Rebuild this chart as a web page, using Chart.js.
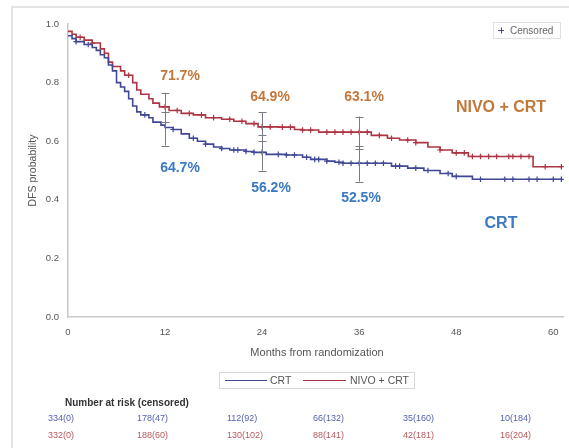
<!DOCTYPE html>
<html>
<head>
<meta charset="utf-8">
<script src="https://cdn.jsdelivr.net/npm/chart.js@4.4.0/dist/chart.umd.min.js"></script>
<style>
  html, body { margin: 0; padding: 0; background: #fff; }
  #wrap { width: 569px; height: 448px; position: relative; }
</style>
</head>
<body>
<div id="wrap"><canvas id="kmChart"></canvas></div>
<script>
// Kaplan-Meier steps (months, DFS probability)
const crtMonths = [0, 0.5, 1, 2, 3, 3.5, 4, 4.5, 5, 5.5, 6, 6.5, 7, 7.5, 8, 8.5, 9, 10, 10.5, 11.5, 12, 13, 14, 15, 16, 17, 18, 19, 20, 22, 23, 24.5, 27, 29, 30, 32, 33, 34, 40, 42, 44, 46, 47.5, 50, 61];
const crtSurv = [0.96, 0.95, 0.94, 0.93, 0.92, 0.91, 0.895, 0.885, 0.86, 0.84, 0.80, 0.785, 0.77, 0.745, 0.72, 0.70, 0.69, 0.68, 0.665, 0.655, 0.647, 0.64, 0.625, 0.61, 0.60, 0.59, 0.58, 0.575, 0.57, 0.565, 0.562, 0.555, 0.553, 0.545, 0.538, 0.532, 0.528, 0.525, 0.515, 0.508, 0.50, 0.49, 0.48, 0.47, 0.47];

const nivoMonths = [0, 0.5, 1, 2, 3, 4, 4.5, 5, 5.5, 6.5, 7, 8, 8.5, 9, 10, 10.5, 11.3, 12.5, 14, 15.5, 17, 19, 20.5, 22, 23.5, 26, 28, 29, 31, 37.5, 39.5, 41, 43, 44.5, 46, 47.5, 49.5, 57.5, 61];
const nivoSurv = [0.975, 0.965, 0.955, 0.945, 0.935, 0.915, 0.90, 0.87, 0.855, 0.84, 0.825, 0.80, 0.775, 0.76, 0.745, 0.73, 0.717, 0.705, 0.695, 0.69, 0.68, 0.675, 0.668, 0.66, 0.649, 0.648, 0.64, 0.638, 0.631, 0.62, 0.61, 0.604, 0.595, 0.58, 0.57, 0.56, 0.548, 0.513, 0.513];

// censoring times (months)
const crtCensor = [1, 2.5, 9.5, 13, 15.5, 17, 19, 20.5, 21, 22, 23, 24, 26, 27, 28, 29.5, 30.5, 31, 32, 33.5, 34, 35, 36, 37, 38, 39, 40.5, 41, 43, 44.5, 47, 48, 51, 54, 55, 57, 58, 60, 61];
const nivoCensor = [1.5, 3, 7.5, 12, 13.5, 15, 16.5, 18, 20, 21.5, 23, 24, 25, 26.5, 27.5, 29, 30, 32, 33, 34, 35, 36, 37, 38.5, 40, 42, 43, 46, 48, 49, 50, 51, 52, 53, 54.5, 55, 56, 57, 59, 61];

// 95% CI bars at landmarks
const ciMonths = [12, 24, 36];
const nivoUpper = [0.765, 0.70, 0.684];
const nivoLower = [0.665, 0.60, 0.575];
const crtUpper = [0.70, 0.62, 0.585];
const crtLower = [0.585, 0.50, 0.462];

const xTicks = [0, 12, 24, 36, 48, 60];
const riskCrt = ['334(0)', '178(47)', '112(92)', '66(132)', '35(160)', '10(184)'];
const riskNivo = ['332(0)', '188(60)', '130(102)', '88(141)', '42(181)', '16(204)'];

const blueLine = '#3f4796';
const redLine = '#ad3442';
const labelOrange = '#c2773b';
const labelBlue = '#3b79c2';
const sans = '"Liberation Sans", Arial, sans-serif';

function stepAt(months, surv, t) {
    let v = surv[0];
    for (let i = 0; i < months.length; i++) {
        if (months[i] <= t) v = surv[i];
    }
    return v;
}

const toPts = (m, s) => m.map((t, i) => ({ x: t, y: s[i] }));
const censorPts = (c, m, s) => c.map(t => ({ x: t, y: stepAt(m, s, t) }));

// extra drawing: frame, CI bars, labels, legends, risk table
const extrasPlugin = {
    id: 'extras',
    beforeDraw(chart) {
        const ctx = chart.ctx;
        ctx.save();
        ctx.strokeStyle = '#dcdcdc';
        ctx.lineWidth = 1.5;
        ctx.beginPath();
        ctx.moveTo(12, 448);
        ctx.lineTo(12, 7);
        ctx.lineTo(569, 7);
        ctx.stroke();
        ctx.restore();
    },
    afterDatasetsDraw(chart) {
        const ctx = chart.ctx;
        const xs = chart.scales.x, ys = chart.scales.y;
        ctx.save();

        // CI bars
        ctx.strokeStyle = '#7a7a86';
        ctx.lineWidth = 1;
        ciMonths.forEach((m, i) => {
            const px = Math.round(xs.getPixelForValue(m)) + 0.5;
            const top = ys.getPixelForValue(nivoUpper[i]);
            const bot = ys.getPixelForValue(crtLower[i]);
            ctx.beginPath();
            ctx.moveTo(px, top);
            ctx.lineTo(px, bot);
            [nivoUpper[i], nivoLower[i], crtUpper[i], crtLower[i]].forEach(v => {
                const py = Math.round(ys.getPixelForValue(v)) + 0.5;
                ctx.moveTo(px - 4, py);
                ctx.lineTo(px + 4, py);
            });
            ctx.stroke();
        });

        // percentage labels
        ctx.font = 'bold 14px ' + sans;
        ctx.textAlign = 'center';
        ctx.textBaseline = 'middle';
        ctx.fillStyle = labelOrange;
        ctx.fillText('71.7%', 180, 76);
        ctx.fillText('64.9%', 270, 97);
        ctx.fillText('63.1%', 364, 97);
        ctx.fillStyle = labelBlue;
        ctx.fillText('64.7%', 180, 168);
        ctx.fillText('56.2%', 271, 188);
        ctx.fillText('52.5%', 361, 198);
        ctx.font = 'bold 16px ' + sans;
        ctx.fillStyle = labelOrange;
        ctx.fillText('NIVO + CRT', 501, 108);
        ctx.fillStyle = labelBlue;
        ctx.fillText('CRT', 501, 224);

        // x axis title
        ctx.font = '11px ' + sans;
        ctx.fillStyle = '#555';
        ctx.fillText('Months from randomization', 317, 353);

        // censored legend
        ctx.strokeStyle = '#e0e0e0';
        ctx.lineWidth = 1;
        ctx.strokeRect(493.5, 22.5, 67, 16);
        ctx.strokeStyle = blueLine;
        ctx.beginPath();
        ctx.moveTo(498, 30.5); ctx.lineTo(504, 30.5);
        ctx.moveTo(501.5, 27.5); ctx.lineTo(501.5, 33.5);
        ctx.stroke();
        ctx.textAlign = 'left';
        ctx.font = '10px ' + sans;
        ctx.fillStyle = '#666';
        ctx.fillText('Censored', 510, 31);

        // series legend
        ctx.strokeStyle = '#d8d8d8';
        ctx.strokeRect(219.5, 372.5, 195, 16);
        ctx.strokeStyle = blueLine;
        ctx.beginPath(); ctx.moveTo(225, 380.5); ctx.lineTo(267, 380.5); ctx.stroke();
        ctx.strokeStyle = redLine;
        ctx.beginPath(); ctx.moveTo(303, 380.5); ctx.lineTo(346, 380.5); ctx.stroke();
        ctx.font = '10.5px ' + sans;
        ctx.fillStyle = '#555';
        ctx.fillText('CRT', 270, 381);
        ctx.fillText('NIVO + CRT', 350, 381);

        // risk table
        ctx.font = 'bold 10px ' + sans;
        ctx.fillStyle = '#333';
        ctx.fillText('Number at risk (censored)', 65, 403);
        ctx.font = '9px ' + sans;
        const cols = [48, 137, 227, 313, 403, 500];
        riskCrt.forEach((t, i) => {
            ctx.fillStyle = '#5561ad';
            ctx.fillText(t, cols[i], 419);
            ctx.fillStyle = '#b8585c';
            ctx.fillText(riskNivo[i], cols[i], 436);
        });
        ctx.restore();
    }
};

const ctx = document.getElementById('kmChart').getContext('2d');
new Chart(ctx, {
    type: 'line',
    data: {
        datasets: [
            {
                label: 'CRT',
                data: toPts(crtMonths, crtSurv),
                borderColor: blueLine,
                borderWidth: 1.6,
                stepped: 'before',
                pointRadius: 0,
                fill: false
            },
            {
                label: 'NIVO + CRT',
                data: toPts(nivoMonths, nivoSurv),
                borderColor: redLine,
                borderWidth: 1.6,
                stepped: 'before',
                pointRadius: 0,
                fill: false
            },
            {
                type: 'scatter',
                label: 'CRT censored',
                data: censorPts(crtCensor, crtMonths, crtSurv),
                borderColor: blueLine,
                pointStyle: 'cross',
                pointRadius: 2.8,
                borderWidth: 1.2
            },
            {
                type: 'scatter',
                label: 'NIVO censored',
                data: censorPts(nivoCensor, nivoMonths, nivoSurv),
                borderColor: redLine,
                pointStyle: 'cross',
                pointRadius: 2.8,
                borderWidth: 1.2
            }
        ]
    },
    options: {
        responsive: true,
        maintainAspectRatio: false,
        animation: false,
        layout: { padding: { top: 24, right: 3, left: 0, bottom: 0 } },
        plugins: {
            legend: { display: false },
            tooltip: { enabled: false }
        },
        scales: {
            x: {
                type: 'linear',
                min: 0,
                max: 61.3,
                afterBuildTicks: s => { s.ticks = xTicks.map(v => ({ value: v })); },
                afterFit: s => { s.height = 131; s.paddingLeft = 0; s.paddingRight = 0; },
                grid: { display: false, drawTicks: true, tickLength: 4, tickColor: '#bbb' },
                border: { color: '#c8c8c8', width: 1.5 },
                ticks: {
                    color: '#555',
                    font: { size: 9.5, family: sans },
                    padding: 6,
                    maxRotation: 0
                }
            },
            y: {
                min: 0,
                max: 1,
                afterFit: s => { s.width = 68; s.paddingTop = 0; s.paddingBottom = 0; },
                grid: { display: false, drawTicks: true, tickLength: 4, tickColor: '#bbb' },
                border: { color: '#c8c8c8', width: 1.5 },
                ticks: {
                    stepSize: 0.2,
                    color: '#555',
                    font: { size: 9.5, family: sans },
                    padding: 5,
                    callback: v => v.toFixed(1)
                },
                title: {
                    display: true,
                    text: 'DFS probability',
                    color: '#555',
                    font: { size: 10.5, family: sans },
                    padding: { top: 27, bottom: 0 }
                }
            }
        }
    },
    plugins: [extrasPlugin]
});
</script>
</body>
</html>
